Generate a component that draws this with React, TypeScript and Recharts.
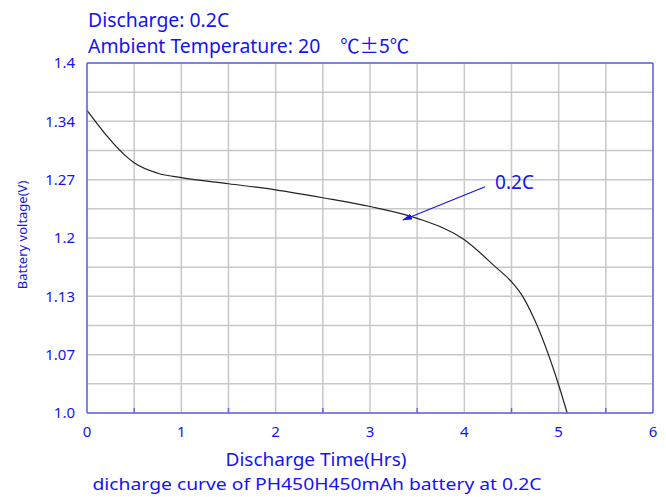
import React from 'react';
import {
  LineChart, Line, XAxis, YAxis, CartesianGrid, ReferenceLine
} from 'recharts';

// discharge time (hrs) and cell voltage (V)
const hours = [0, 0.44, 0.5, 0.75, 1.0, 1.5, 2.0, 2.5, 3.0, 3.5, 4.0, 4.33, 4.5, 4.62, 4.73, 5.0, 5.09];
const volts = [1.346, 1.291, 1.286, 1.274, 1.269, 1.262, 1.255, 1.246, 1.236, 1.2225, 1.198, 1.167, 1.15, 1.133, 1.11, 1.032, 1.0];

const xTicks = [0, 0.5, 1, 1.5, 2, 2.5, 3, 3.5, 4, 4.5, 5, 5.5, 6];
const yTicks = [1.0, 1.0333, 1.0667, 1.1, 1.1333, 1.1667, 1.2, 1.2333, 1.2667, 1.3, 1.3333, 1.3667, 1.4];
const yTickLabels = ['1.0', '', '1.07', '', '1.13', '', '1.2', '', '1.27', '', '1.34', '', '1.4'];

// annotation arrow: from label to the curve
const arrowFrom = { x: 4.22, y: 1.2586 };
const arrowTo = { x: 3.35, y: 1.2206 };
const arrowLabel = '0.2C';

const data = hours.map((t, i) => ({ t, v: volts[i] }));

const BLUE = '#1414f0';
const AXIS = '#6464f0';
const GRID = '#c8c8c8';
const FONT = "'Noto Sans', Lato, sans-serif";
const CJK = "'Noto Sans CJK SC', sans-serif";

const XTick = (props: any) => {
  const { x, y, payload } = props;
  const v = payload.value;
  if (Number.isInteger(v)) {
    return (
      <text x={x} y={y + 24} textAnchor="middle" fill={BLUE} fontSize={15} fontFamily={FONT}>
        {v}
      </text>
    );
  }
  return <line x1={x} x2={x} y1={y} y2={y - 5} stroke={AXIS} strokeWidth={1.5} />;
};

const YTick = (props: any) => {
  const { x, y, index } = props;
  const label = yTickLabels[index];
  if (!label) return <g />;
  return (
    <text x={x - 12} y={y} dy="0.35em" textAnchor="end" fill={BLUE} fontSize={15} fontFamily={FONT}>
      {label}
    </text>
  );
};

const Arrow = (props: any) => {
  const { x1, y1, x2, y2 } = props;
  if (x1 === undefined) return <g />;
  return (
    <g>
      <defs>
        <marker id="arrowHead" markerWidth="10" markerHeight="6" refX="9" refY="3" orient="auto" markerUnits="userSpaceOnUse">
          <path d="M0,0 L10,3 L0,6 Z" fill={BLUE} />
        </marker>
      </defs>
      <line x1={x1} y1={y1} x2={x2} y2={y2} stroke={BLUE} strokeWidth={1.2} markerEnd="url(#arrowHead)" />
      <text x={x1 + 10} y={y1 + 2} fill={BLUE} fontSize={19} fontFamily={FONT}>{arrowLabel}</text>
    </g>
  );
};

const App: React.FC = () => {
  return (
    <div style={{ position: 'absolute', left: 0, top: 0, width: 666, height: 497, background: '#fff' }}>
      <LineChart
        width={666}
        height={497}
        data={data}
        margin={{ top: 63, right: 13, left: 27, bottom: 54 }}
      >
        <CartesianGrid stroke={GRID} strokeWidth={1.5} />
        <XAxis
          dataKey="t"
          type="number"
          domain={[0, 6]}
          ticks={xTicks}
          interval={0}
          height={30}
          tickSize={0}
          tickMargin={0}
          tick={<XTick />}
          stroke={AXIS}
          strokeWidth={1.5}
        />
        <YAxis
          type="number"
          domain={[1.0, 1.4]}
          ticks={yTicks}
          interval={0}
          width={60}
          tickSize={0}
          tickMargin={0}
          tick={<YTick />}
          stroke={AXIS}
          strokeWidth={1.5}
        />
        <ReferenceLine y={1.4} stroke={AXIS} strokeWidth={1.5} />
        <ReferenceLine x={6} stroke={AXIS} strokeWidth={1.5} />
        <Line
          type="monotone"
          dataKey="v"
          stroke="#222"
          strokeWidth={1.2}
          dot={false}
          isAnimationActive={false}
        />
        <ReferenceLine segment={[arrowFrom, arrowTo]} shape={<Arrow />} />
      </LineChart>
      <svg
        width={666}
        height={497}
        style={{ position: 'absolute', left: 0, top: 0, pointerEvents: 'none' }}
        fontFamily={FONT}
        fill={BLUE}
      >
        <text x={88} y={27} fontSize={19.4}>Discharge: 0.2C</text>
        <text x={88} y={53} fontSize={19.4}>
          {'Ambient Temperature: 20'}
          <tspan fontFamily={CJK} dx={20}>{'℃±5℃'}</tspan>
        </text>
        <text
          x={22}
          y={235}
          fontSize={13}
          textAnchor="middle"
          dy="0.35em"
          transform="rotate(-90 22 235)"
        >
          Battery voltage(V)
        </text>
        <text x={316} y={466} fontSize={17.5} textAnchor="middle" textLength={181} lengthAdjust="spacingAndGlyphs">
          Discharge Time(Hrs)
        </text>
        <text x={317} y={490} fontSize={17} textAnchor="middle" textLength={449} lengthAdjust="spacingAndGlyphs">
          dicharge curve of PH450H450mAh battery at 0.2C
        </text>
      </svg>
    </div>
  );
};

export default App;
